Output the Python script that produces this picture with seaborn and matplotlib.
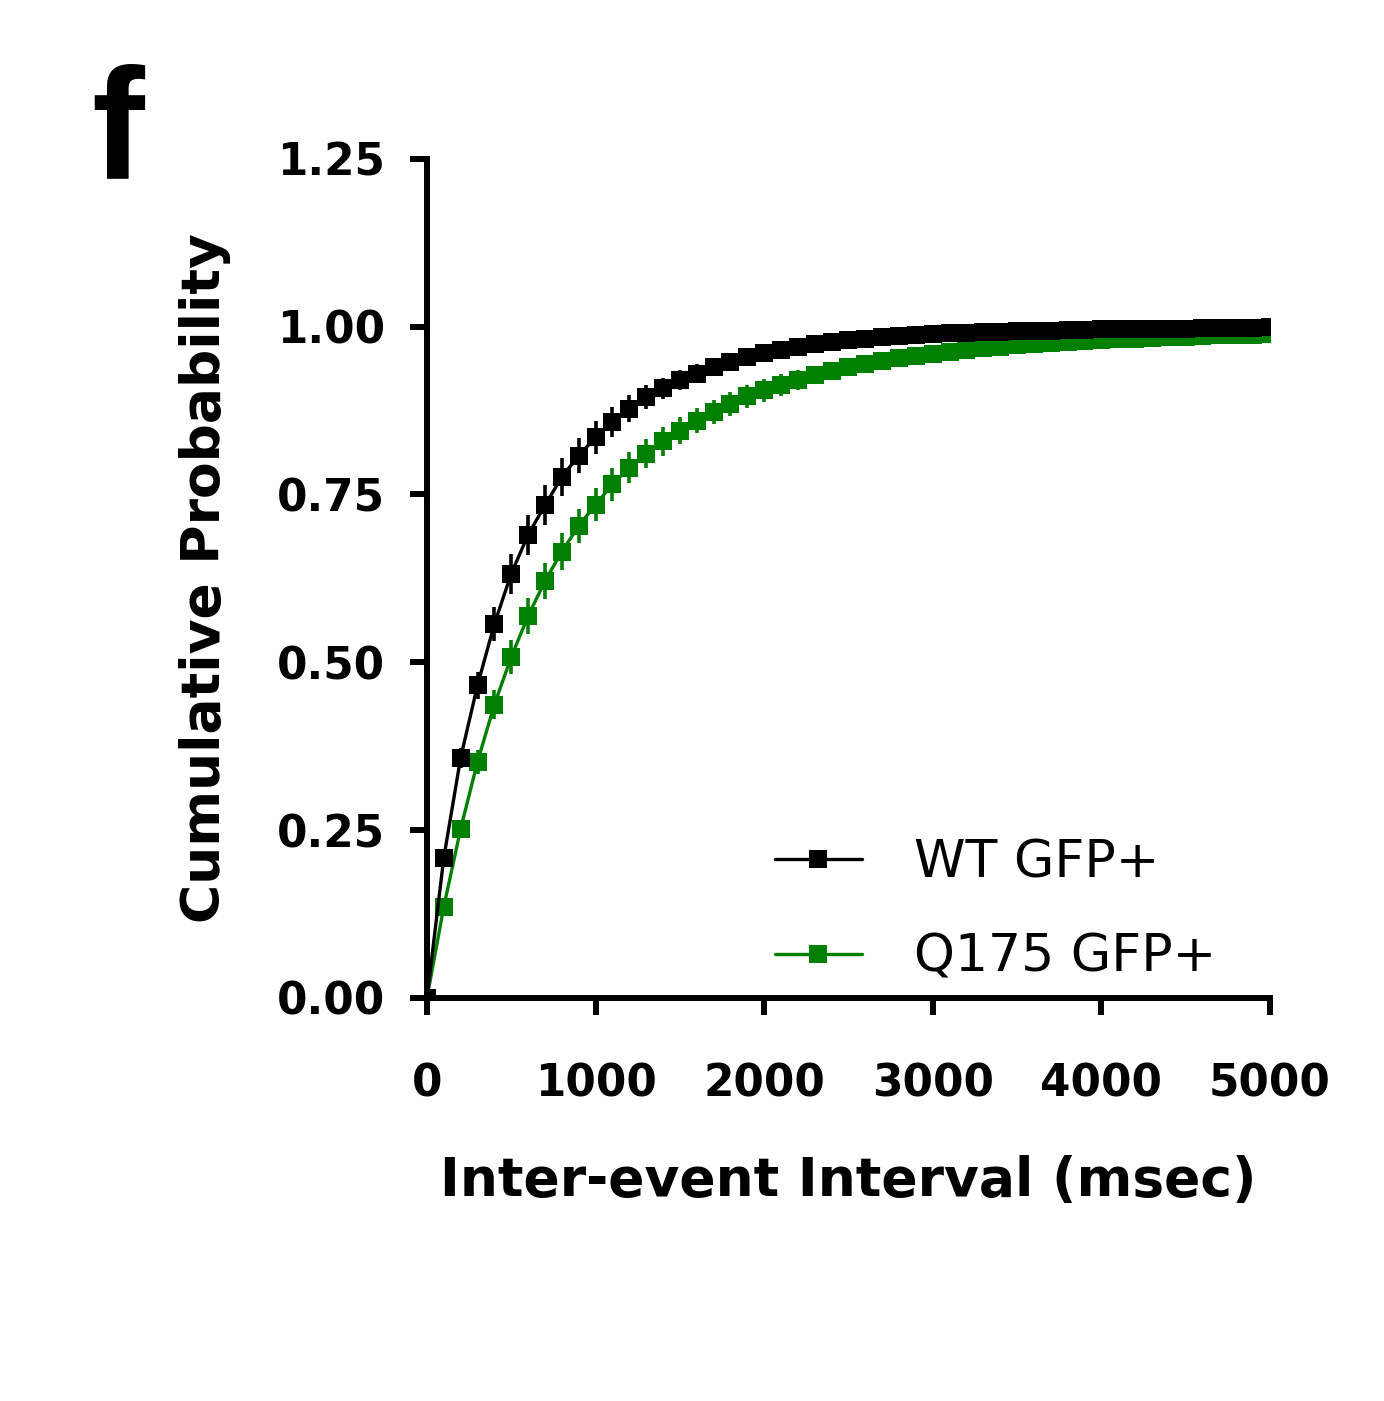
import numpy as np
import pandas as pd
import seaborn as sns
import matplotlib.pyplot as plt

# valori (cumulativa media +/- SEM, bin da 100 ms)
interval_ms = list(range(0, 5001, 100))

wt_prob = [0.000, 0.209, 0.358, 0.466, 0.557, 0.632, 0.690, 0.734, 0.776, 0.808,
           0.835, 0.858, 0.878, 0.895, 0.908, 0.920, 0.930, 0.940, 0.948, 0.955,
           0.961, 0.966, 0.970, 0.974, 0.977, 0.980, 0.982, 0.984, 0.986, 0.988,
           0.989, 0.990, 0.991, 0.992, 0.992, 0.993, 0.994, 0.994, 0.995, 0.995,
           0.996, 0.996, 0.996, 0.997, 0.997, 0.997, 0.998, 0.998, 0.998, 0.998,
           0.999]
wt_sem = [0.000, 0.010, 0.015, 0.020, 0.025, 0.030, 0.030, 0.030, 0.028, 0.026,
          0.024, 0.022, 0.020, 0.018, 0.016, 0.015, 0.014, 0.013, 0.012, 0.011,
          0.010, 0.009, 0.009, 0.008, 0.008, 0.007, 0.007, 0.006, 0.006, 0.006,
          0.005, 0.005, 0.005, 0.005, 0.004, 0.004, 0.004, 0.004, 0.004, 0.003,
          0.003, 0.003, 0.003, 0.003, 0.003, 0.002, 0.002, 0.002, 0.002, 0.002,
          0.002]

q175_prob = [0.000, 0.136, 0.252, 0.352, 0.437, 0.508, 0.569, 0.621, 0.665, 0.703,
             0.735, 0.765, 0.790, 0.811, 0.829, 0.845, 0.860, 0.873, 0.885, 0.896,
             0.905, 0.913, 0.921, 0.928, 0.934, 0.940, 0.945, 0.949, 0.953, 0.957,
             0.960, 0.963, 0.966, 0.968, 0.970, 0.972, 0.974, 0.976, 0.977, 0.979,
             0.980, 0.981, 0.982, 0.983, 0.984, 0.985, 0.986, 0.987, 0.988, 0.988,
             0.989]
q175_sem = [0.000, 0.008, 0.012, 0.018, 0.022, 0.025, 0.027, 0.027, 0.027, 0.026,
            0.025, 0.024, 0.023, 0.022, 0.021, 0.020, 0.019, 0.018, 0.018, 0.017,
            0.017, 0.016, 0.015, 0.014, 0.013, 0.013, 0.012, 0.011, 0.010, 0.010,
            0.009, 0.009, 0.008, 0.008, 0.007, 0.007, 0.007, 0.006, 0.006, 0.006,
            0.005, 0.005, 0.005, 0.005, 0.005, 0.004, 0.004, 0.004, 0.004, 0.004,
            0.004]

groups = ['WT GFP+', 'Q175 GFP+']
colors = {'WT GFP+': 'black', 'Q175 GFP+': 'green'}

df = pd.concat([
    pd.DataFrame({'Interval': interval_ms, 'Prob': wt_prob, 'SEM': wt_sem, 'Gruppo': groups[0]}),
    pd.DataFrame({'Interval': interval_ms, 'Prob': q175_prob, 'SEM': q175_sem, 'Gruppo': groups[1]}),
])

sns.set_style("ticks")
plt.rcParams['font.family'] = ['DejaVu Sans']
plt.rcParams.update({'text.color': 'black', 'axes.labelcolor': 'black',
                     'xtick.color': 'black', 'ytick.color': 'black'})

fig = plt.figure(figsize=(13.84, 14.01), dpi=100)
ax = fig.add_axes([0.3085, 0.2877, 0.609, 0.5989])

# prima il verde, poi il nero sopra
for g in groups[::-1]:
    sub = df[df['Gruppo'] == g]
    ax.errorbar(sub['Interval'], sub['Prob'], yerr=sub['SEM'], fmt='none',
                ecolor=colors[g], elinewidth=2.6, capsize=0, zorder=2)
sns.lineplot(data=df, x='Interval', y='Prob', hue='Gruppo', hue_order=groups[::-1],
             palette=colors, marker='s', markersize=13, markeredgewidth=0,
             linewidth=2.4, ax=ax, zorder=3)

ax.set_xlim(0, 5000)
ax.set_ylim(0, 1.25)
ax.set_xticks([0, 1000, 2000, 3000, 4000, 5000])
ax.set_yticks([0, 0.25, 0.5, 0.75, 1.0, 1.25])
ax.set_yticklabels(['0.00', '0.25', '0.50', '0.75', '1.00', '1.25'])

for s in ['top', 'right']:
    ax.spines[s].set_visible(False)
for s in ['left', 'bottom']:
    ax.spines[s].set_linewidth(4.3)
    ax.spines[s].set_color('black')

ax.tick_params(axis='both', which='major', length=12.2, width=4.3, color='black',
               labelsize=31.5, direction='out')
ax.tick_params(axis='y', pad=18)
ax.tick_params(axis='x', pad=34)
for lab in ax.get_xticklabels() + ax.get_yticklabels():
    lab.set_fontweight('bold')

ax.set_xlabel('Inter-event Interval (msec)', fontsize=38.5, fontweight='bold', labelpad=36)
ax.set_ylabel('Cumulative Probability', fontsize=38.5, fontweight='bold')
ax.yaxis.set_label_coords(-0.2325, 0.5)

handles, labels = ax.get_legend_handles_labels()
order = [labels.index(g) for g in groups]
ax.legend([handles[i] for i in order], [labels[i] for i in order],
          loc='upper left', bbox_to_anchor=(0.413, 0.19), frameon=False,
          fontsize=37.5, handlelength=1.66, handletextpad=1.0, labelspacing=0.85,
          borderpad=0, borderaxespad=0)

fig.text(0.066, 1 - 177 / 1401, 'f', fontsize=114, fontweight='bold',
         family='Liberation Sans', ha='left', va='baseline')

plt.savefig('out.png', dpi=100)
